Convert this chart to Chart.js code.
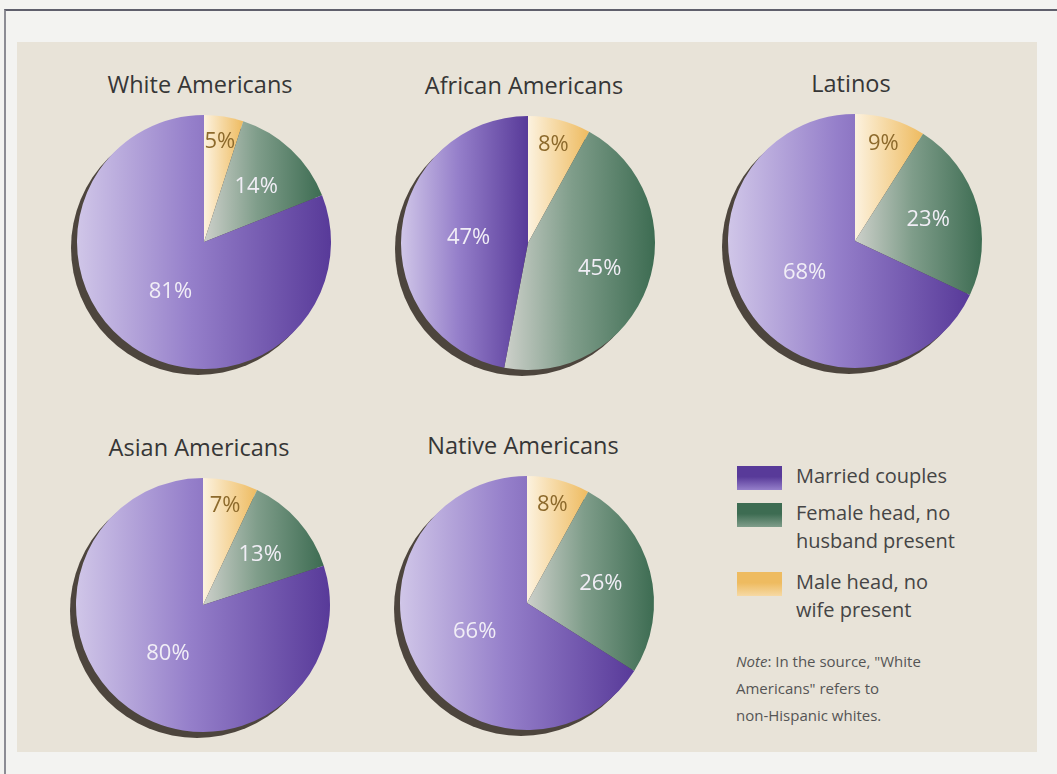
<!DOCTYPE html>
<html>
<head>
<meta charset="utf-8">
<script src="https://cdn.jsdelivr.net/npm/chart.js@4.4.1/dist/chart.umd.min.js"></script>
<style>
  body { margin: 0; width: 1057px; height: 774px; overflow: hidden; background: #f3f3f1; font-family: "Open Sans", sans-serif; position: relative; }
  #frame { position: absolute; left: 4px; top: 9px; right: -10px; bottom: -10px; border-left: 2px solid #8c8c94; border-top: 2px solid #5f5f6c; }
  #panel { position: absolute; left: 17px; top: 42px; width: 1020px; height: 710px; background: #e8e3d8; }
  .pie { position: absolute; }
  .title { position: absolute; width: 300px; text-align: center; font-size: 23.5px; color: #363636; line-height: 26px; }
  .key { position: absolute; left: 737px; }
  .swatch { position: absolute; left: 0; top: 2px; width: 45px; height: 24px; }
  .key-text { position: absolute; left: 59px; width: 240px; font-size: 20px; line-height: 28px; color: #454545; white-space: nowrap; }
  #note { position: absolute; left: 736px; top: 648px; font-size: 15px; line-height: 27px; color: #555; }
</style>
</head>
<body>
<div id="frame"></div>
<div id="panel"></div>
<div id="charts"></div>
<div id="legend"></div>
<div id="note"><i>Note</i>: In the source, "White<br>Americans" refers to<br>non-Hispanic whites.</div>

<script>
// household types, in drawing order (clockwise from 12 o'clock)
const categories = ['Male head, no wife present', 'Female head, no husband present', 'Married couples'];
const groups = ['White Americans', 'African Americans', 'Latinos', 'Asian Americans', 'Native Americans'];

// percent of families by group
const maleHead   = [5, 8, 9, 7, 8];
const femaleHead = [14, 45, 23, 13, 26];
const married    = [81, 47, 68, 80, 66];

// legend is listed top-down in reverse order, with the line breaks of the print version
const legendLines = [['Married couples'], ['Female head, no', 'husband present'], ['Male head, no', 'wife present']];

// pie centres on the page and radius
const centres = [[204, 242], [528, 243], [855, 241], [203, 605], [527, 603]];
const R = 127;
const PAD = 14;

// light -> dark colour ramps, run left to right across each slice
const ramps = [
  ['#fcf2df', '#f6d9a4', '#eebb60'],
  ['#cdd0ca', '#7f9d8a', '#3d6c52'],
  ['#d0c6e8', '#957fca', '#583a99']
];
const labelColours = ['#8d6a2c', '#f1eef6', '#f1eef6'];
const labelRadius = [0.8, 0.6, 0.47];

function sliceSpan(arc) {
  const p = arc.getProps(['x', 'startAngle', 'endAngle', 'outerRadius']);
  const xs = [p.x, p.x + p.outerRadius * Math.cos(p.startAngle), p.x + p.outerRadius * Math.cos(p.endAngle)];
  for (let k = -2; k <= 4; k++) {
    const a = k * Math.PI;
    if (a > p.startAngle && a < p.endAngle) xs.push(p.x + p.outerRadius * Math.cos(a));
  }
  return [Math.min(...xs), Math.max(...xs)];
}

// drop shadow + gradient fills, worked out from the arc geometry
const shading = {
  id: 'shading',
  beforeDatasetsDraw(chart) {
    const c = chart.ctx;
    const meta = chart.getDatasetMeta(0);
    const first = meta.data[0];
    c.save();
    c.fillStyle = '#4d453d';
    c.beginPath();
    c.arc(first.x - 6, first.y + 6, first.outerRadius, 0, Math.PI * 2);
    c.fill();
    c.restore();
    meta.data.forEach((arc, i) => {
      const [x0, x1] = sliceSpan(arc);
      const g = c.createLinearGradient(x0, 0, x1, 0);
      const stops = ramps[i];
      g.addColorStop(0, stops[0]);
      g.addColorStop(0.45, stops[1]);
      g.addColorStop(1, stops[2]);
      arc.options.backgroundColor = g;
    });
  },
  afterDatasetsDraw(chart) {
    const c = chart.ctx;
    const meta = chart.getDatasetMeta(0);
    const values = chart.data.datasets[0].data;
    c.save();
    c.font = '22px "Open Sans"';
    c.textAlign = 'center';
    c.textBaseline = 'middle';
    meta.data.forEach((arc, i) => {
      const mid = (arc.startAngle + arc.endAngle) / 2;
      const r = arc.outerRadius * labelRadius[i];
      c.fillStyle = labelColours[i];
      c.fillText(values[i] + '%', arc.x + r * Math.cos(mid), arc.y + r * Math.sin(mid));
    });
    c.restore();
  }
};

const holder = document.getElementById('charts');
groups.forEach((name, g) => {
  const [cx, cy] = centres[g];
  const size = 2 * (R + PAD);

  const title = document.createElement('div');
  title.className = 'title';
  title.textContent = name;
  title.style.left = (cx - 150 - 4) + 'px';
  title.style.top = (cy - R - 44) + 'px';
  holder.appendChild(title);

  const canvas = document.createElement('canvas');
  canvas.className = 'pie';
  canvas.width = size;
  canvas.height = size;
  canvas.style.left = (cx - size / 2) + 'px';
  canvas.style.top = (cy - size / 2) + 'px';
  holder.appendChild(canvas);

  new Chart(canvas, {
    type: 'pie',
    data: {
      labels: categories,
      datasets: [{
        data: [maleHead[g], femaleHead[g], married[g]],
        backgroundColor: ramps.map(s => s[2]),
        borderWidth: 0
      }]
    },
    options: {
      responsive: false,
      animation: false,
      radius: R,
      layout: { padding: PAD },
      events: [],
      plugins: { legend: { display: false }, tooltip: { enabled: false } }
    },
    plugins: [shading]
  });
});

// key, built from the same colour ramps (top item = last category)
const legendTops = [464, 501, 570];
const legend = document.getElementById('legend');
legendLines.forEach((lines, k) => {
  const ramp = ramps[ramps.length - 1 - k];
  const item = document.createElement('div');
  item.className = 'key';
  item.style.top = legendTops[k] + 'px';
  const sw = document.createElement('div');
  sw.className = 'swatch';
  sw.style.background = 'linear-gradient(to bottom, ' + ramp[2] + ' 0%, ' + ramp[2] + ' 45%, ' + ramp[1] + ' 100%)';
  const txt = document.createElement('div');
  txt.className = 'key-text';
  txt.style.top = '-2px';
  txt.innerHTML = lines.join('<br>');
  item.appendChild(sw);
  item.appendChild(txt);
  legend.appendChild(item);
});
</script>
</body>
</html>
